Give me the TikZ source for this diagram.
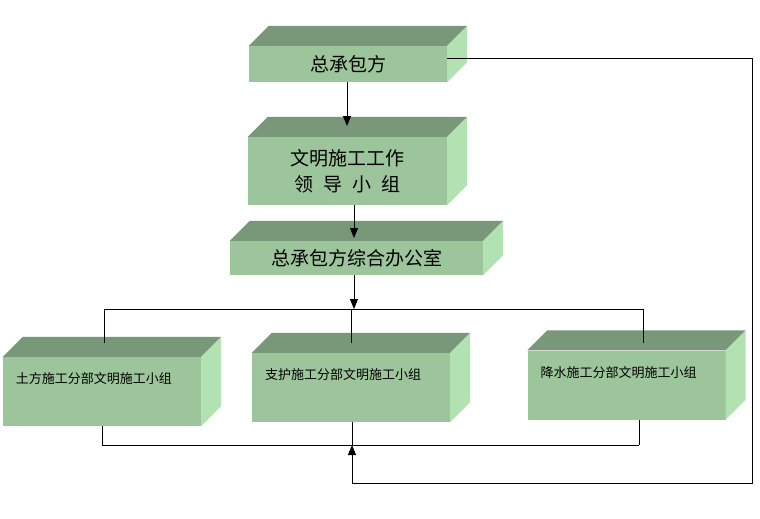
\documentclass[tikz,border=0pt]{standalone}
\usepackage{fontspec}
\newfontfamily\cjk{Noto Sans CJK SC}
\usetikzlibrary{arrows.meta}
\definecolor{frontface}{RGB}{157,197,155}
\definecolor{topface}{RGB}{121,151,121}
\definecolor{sideface}{RGB}{178,226,178}
\tikzset{
  cube/.style={rectangle, inner sep=0pt, fill=frontface, align=center, font=\cjk\fontsize{19}{26}\selectfont},
  group/.style={cube, minimum width=198pt, minimum height=69pt, inner xsep=13pt, text width=172pt, align=left,
    text height=10pt, text depth=26pt, font=\cjk\fontsize{13}{16}\selectfont},
  line/.style={line width=0.8pt, black},
  arrow/.style={line, -{Triangle[length=10pt,width=8pt]}}
}
\begin{document}
\begin{tikzpicture}[x=1pt, y=-1pt]
\useasboundingbox (0,0) rectangle (760,519);
% 方框
\node (chief) [cube, minimum width=198pt, minimum height=36pt] at (348,64) {总承包方};
\node (lead) [cube, minimum width=199pt, minimum height=68pt] at (347.5,171) {文明施工工作\\领\hspace{10pt}导\hspace{10pt}小\hspace{10pt}组};
\node (office) [cube, minimum width=253pt, minimum height=34pt] at (356.5,258) {总承包方综合办公室};

\node (soil) [group] at (102,391.5) {土方施工分部文明施工小组};
\node (support) [group] at (351,387.5) {支护施工分部文明施工小组};
\node (dewater) [group] at (626.5,385) {降水施工分部文明施工小组};

% 立体面
\foreach \n in {chief,lead,office,soil,support,dewater} {
  \fill[topface] (\n.north west) -- ++(20,-20) -- ([shift={(20,-20)}]\n.north east) -- (\n.north east) -- cycle;
  \fill[sideface] (\n.north east) -- ++(20,-20) -- ([shift={(20,-20)}]\n.south east) -- (\n.south east) -- cycle;
}

\coordinate (leadTip) at (347,126);
\coordinate (officeTip) at (354,238);
\coordinate (busL) at (104,309);
\coordinate (busM) at (354,309);
\coordinate (busR) at (643,309);
\coordinate (tops) at (0,343);
\coordinate (sumL) at (102,445);
\coordinate (sumM) at (352,445);
\coordinate (sumR) at (639,445);
\coordinate (fbcorner) at (752,483);

% 连线
\draw[arrow] (chief.south -| leadTip) -- (leadTip);
\draw[arrow] (lead.south -| officeTip) -- (officeTip);
\draw[arrow] (office.south -| busM) -- (busM);

\draw[line] (busL) -- (busR);
\draw[line] (busL) -- (busL |- tops);
\draw[line] (support.north |- busM) -- (support.north |- tops);
\draw[line] (busR) -- (busR |- tops);

\draw[line] (sumL) -- (sumR);
\draw[line] (soil.south -| sumL) -- (sumL);
\draw[line] (support.south -| sumM) -- (sumM);
\draw[line] (dewater.south -| sumR) -- (sumR);

\draw[arrow] ([yshift=6pt]chief.east) -| (fbcorner) -| (sumM);

\end{tikzpicture}
\end{document}
